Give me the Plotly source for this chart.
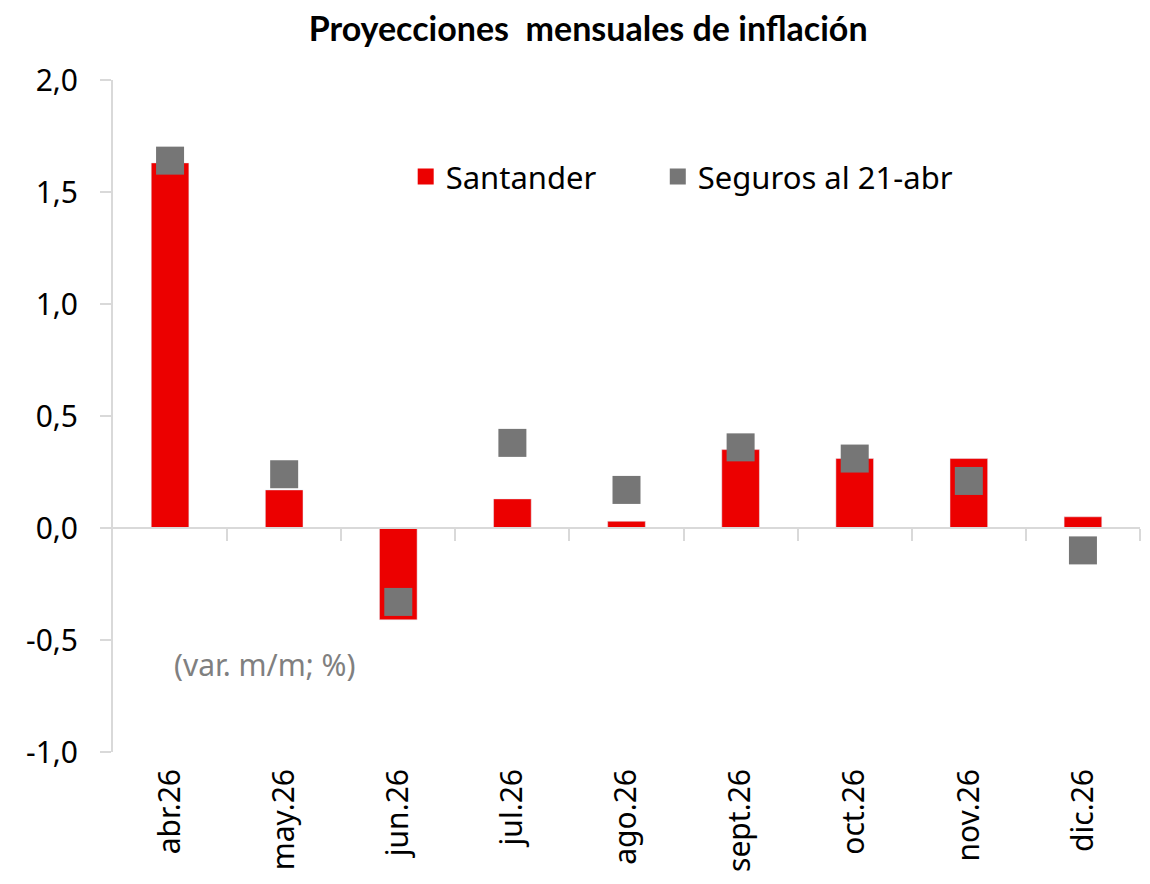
import plotly.graph_objects as go

categories = ["abr.26", "may.26", "jun.26", "jul.26", "ago.26", "sept.26", "oct.26", "nov.26", "dic.26"]
santander = [1.63, 0.17, -0.41, 0.13, 0.03, 0.35, 0.31, 0.31, 0.05]
seguros = [1.64, 0.24, -0.33, 0.38, 0.17, 0.36, 0.31, 0.21, -0.10]
y_ticks = [-1.0, -0.5, 0.0, 0.5, 1.0, 1.5, 2.0]
y_tick_text = [f"{v:.1f}".replace(".", ",") for v in y_ticks]

RED = "#EC0000"
GREY = "#767676"
AXIS = "#D9D9D9"
FONT = "Noto Sans"

fig = go.Figure()
fig.add_trace(go.Bar(x=categories, y=santander, marker=dict(color=RED), width=0.33,
                     showlegend=False, name="Santander"))
fig.add_trace(go.Scatter(x=categories, y=seguros, mode="markers",
                         marker=dict(symbol="square", size=28, color=GREY),
                         showlegend=False, name="Seguros al 21-abr"))
# legend entries
fig.add_trace(go.Scatter(x=[None], y=[None], mode="markers",
                         name="Santander" + "\u00a0" * 7,
                         marker=dict(symbol="square", size=22, color=RED)))
fig.add_trace(go.Scatter(x=[None], y=[None], mode="markers", name="Seguros al 21-abr",
                         marker=dict(symbol="square", size=22, color=GREY)))

# helper axis drawing the zero line with category-boundary ticks
n = len(categories)
fig.add_trace(go.Scatter(x=[None], y=[None], xaxis="x2", showlegend=False))

ymin, ymax = -1.0, 2.0
zero_pos = (0 - ymin) / (ymax - ymin)

fig.update_layout(
    width=1142, height=876,
    margin=dict(l=105, r=10, t=72, b=132),
    paper_bgcolor="white", plot_bgcolor="white",
    font=dict(family=FONT, size=30, color="#000000"),
    title=dict(text="<b>Proyecciones  mensuales de inflación</b>",
               font=dict(family="Lato", size=34, color="#000000"),
               x=0.508, xanchor="center", y=0.976, yanchor="middle"),
    legend=dict(orientation="h", x=0.285, y=0.856, xanchor="left", yanchor="middle",
                font=dict(family=FONT, size=31), bgcolor="rgba(0,0,0,0)",
                itemsizing="trace"),
    xaxis=dict(type="category", categoryorder="array", categoryarray=categories,
               range=[-0.5, n - 0.5], showline=False, ticks="", showgrid=False,
               tickangle=-90, tickfont=dict(family=FONT, size=30), zeroline=False,
               automargin=False, ticklabelstandoff=10),
    xaxis2=dict(overlaying="x", anchor="free", position=zero_pos, range=[-0.5, n - 0.5],
                showline=True, linecolor=AXIS, linewidth=2, ticks="outside",
                tickcolor=AXIS, tickwidth=2, ticklen=12,
                tickvals=[i + 0.5 for i in range(n)], showticklabels=False,
                showgrid=False, zeroline=False, automargin=False),
    yaxis=dict(range=[ymin, ymax], tickvals=y_ticks, ticktext=y_tick_text,
               showline=True, linecolor=AXIS, linewidth=2, ticks="outside",
               tickcolor=AXIS, tickwidth=2, ticklen=11, showgrid=False, zeroline=False,
               tickfont=dict(family=FONT, size=30), automargin=False,
               ticklabelstandoff=16),
    bargap=0.67,
)

fig.add_annotation(text="(var. m/m; %)", xref="paper", yref="y", x=0.057, y=-0.61,
                   xanchor="left", yanchor="middle", showarrow=False,
                   font=dict(family=FONT, size=30, color="#808080"))

fig.write_html("out.html")
